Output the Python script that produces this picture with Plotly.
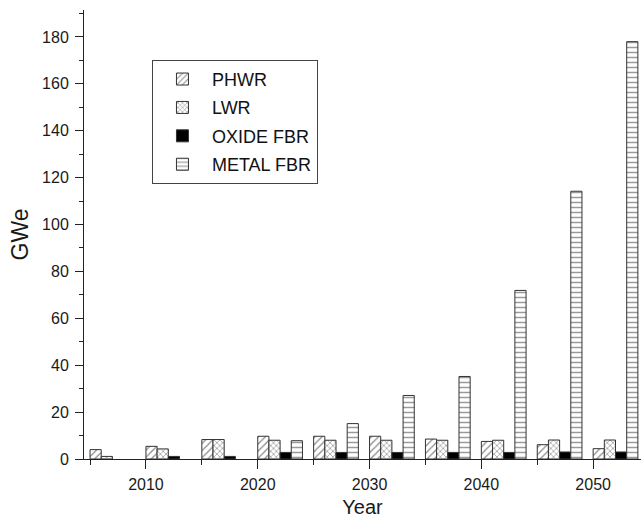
import plotly.graph_objects as go

years = [2005, 2010, 2015, 2020, 2025, 2030, 2035, 2040, 2045, 2050]
phwr = [4.0, 5.4, 8.3, 9.7, 9.7, 9.7, 8.5, 7.5, 6.1, 4.4]
lwr = [1.1, 4.3, 8.3, 8.0, 8.0, 8.0, 8.0, 8.0, 8.1, 8.1]
oxide_fbr = [None, 1.1, 1.1, 2.8, 2.8, 2.8, 2.8, 2.8, 3.0, 3.0]
metal_fbr = [None, None, None, 7.8, 15.1, 27.1, 35.2, 71.9, 114.2, 178.0]
series_names = ["PHWR", "LWR", "OXIDE FBR", "METAL FBR"]

font_family = "Liberation Sans"
edge = dict(color="#333333", width=1)

patterns = [
    dict(shape="/", fgcolor="#8a8a8a", bgcolor="white", size=5, solidity=0.25, fillmode="replace"),
    dict(shape="x", fgcolor="#8a8a8a", bgcolor="white", size=4, solidity=0.3, fillmode="replace"),
    None,
    dict(shape="-", fgcolor="#9a9a9a", bgcolor="white", size=5, solidity=0.3, fillmode="replace"),
]
colors = ["white", "white", "black", "white"]
data = [phwr, lwr, oxide_fbr, metal_fbr]

fig = go.Figure()
for i, (name, vals) in enumerate(zip(series_names, data)):
    marker = dict(color=colors[i], line=edge)
    if patterns[i] is not None:
        marker["pattern"] = patterns[i]
    fig.add_trace(go.Bar(
        x=years, y=vals, name=name, offset=i, width=1,
        marker=marker, legendgroup=name,
    ))

fig.update_layout(
    width=641, height=519,
    margin=dict(l=84, r=0, t=10, b=60, autoexpand=False),
    plot_bgcolor="white", paper_bgcolor="white",
    barmode="overlay",
    font=dict(family=font_family, color="#1a1a1a"),
    showlegend=True,
    legend=dict(
        x=0.122, y=0.889, xanchor="left", yanchor="top",
        bordercolor="#444444", borderwidth=1, bgcolor="white",
        font=dict(size=18, family=font_family, color="#111111"),
        itemwidth=49, tracegroupgap=2,
    ),
    xaxis=dict(
        range=[2004.46, 2054.28], automargin=False,
        tickmode="linear", tick0=2010, dtick=10,
        ticks="outside", ticklen=9, tickwidth=1, tickcolor="#222",
        minor=dict(dtick=5, tick0=2005, ticks="outside", ticklen=5, tickwidth=1, tickcolor="#222"),
        showline=True, linecolor="#222", linewidth=1,
        showgrid=False, zeroline=False,
        tickfont=dict(size=16), ticklabelstandoff=2,
        title=dict(text="Year", font=dict(size=20), standoff=7),
    ),
    yaxis=dict(
        range=[0, 191.5], automargin=False,
        tickmode="linear", tick0=0, dtick=20,
        ticks="outside", ticklen=8, tickwidth=1, tickcolor="#222",
        minor=dict(dtick=10, ticks="outside", ticklen=4, tickwidth=1, tickcolor="#222"),
        showline=True, linecolor="#222", linewidth=1,
        showgrid=False, zeroline=False,
        tickfont=dict(size=16), ticklabelstandoff=3,
        title=dict(text="GWe", font=dict(size=23), standoff=7),
    ),
)

fig.write_html(
    "out.html",
    config={"displayModeBar": False},
    post_script="document.body.style.margin='0';document.body.style.overflow='hidden';",
)
